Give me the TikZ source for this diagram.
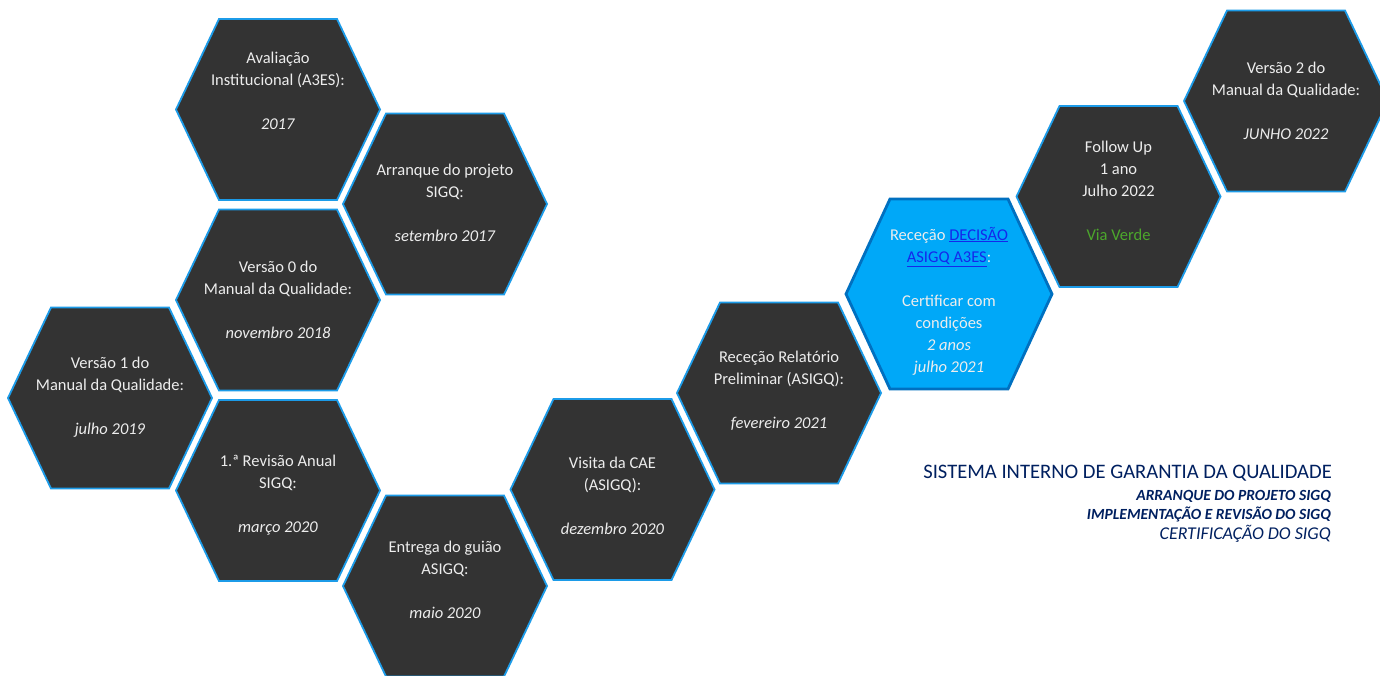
\documentclass[tikz,border=0pt]{standalone}
\usepackage{fontspec}
\setmainfont{Carlito}
\definecolor{hexfill}{HTML}{333333}
\definecolor{hexline}{HTML}{1C9BE8}
\definecolor{hitfill}{HTML}{00A8F8}
\definecolor{hitline}{HTML}{0070C0}
\definecolor{hextxt}{HTML}{EDEDED}
\definecolor{linkblue}{RGB}{20,40,235}
\definecolor{viaverde}{HTML}{4CA72C}
\definecolor{navy}{HTML}{002060}
\tikzset{
  hexpic/.pic={\path[pic actions] (-102,0) -- (-59,-90.5) -- (59,-90.5) -- (102,0) -- (59,90.5) -- (-59,90.5) -- cycle;},
  hexbig/.pic={\path[pic actions] (-103,0) -- (-59,-95) -- (59,-95) -- (103,0) -- (59,95) -- (-59,95) -- cycle;},
  hexstyle/.style={fill=hexfill, draw=hexline, line width=1.8pt, line join=miter},
  hitstyle/.style={fill=hitfill, draw=hitline, line width=2.8pt, line join=miter},
  hextext/.style={align=center, text=hextxt, inner sep=0pt, font=\fontsize{16.5}{22}\selectfont},
  titletext/.style={anchor=base east, inner sep=0pt, text=navy},
}
\begin{document}
\begin{tikzpicture}[x=1pt,y=-1pt]
\useasboundingbox (0,0) rectangle (1380,675);
\fill[white] (0,0) rectangle (1380,675);

% hexagons
\pic[hexstyle] at (278,109.5) {hexpic};
\pic[hexstyle] at (445,204) {hexpic};
\pic[hexstyle] at (278,300) {hexpic};
\pic[hexstyle] at (110,398) {hexpic};
\pic[hexstyle] at (278,490.5) {hexpic};
\pic[hexstyle] at (445,586) {hexpic};
\pic[hexstyle] at (612.5,489.5) {hexpic};
\pic[hexstyle] at (779,393) {hexpic};
\pic[hitstyle] at (949,294) {hexbig};
\pic[hexstyle] at (1118.5,196.5) {hexpic};
\pic[hexstyle] at (1286,101) {hexpic};

% texts
\node[hextext] (avaliacao) at (278,91) {Avaliação\\Institucional (A3ES):\\[22pt]\textit{2017}};
\node[hextext] (arranque) at (445,202.5) {Arranque do projeto\\SIGQ:\\[22pt]\textit{setembro 2017}};
\node[hextext] (versao0) at (278,300) {Versão 0 do\\Manual da Qualidade:\\[22pt]\textit{novembro 2018}};
\node[hextext] (versao1) at (110,397.5) {Versão 1 do\\Manual da Qualidade:\\[22pt]\textit{julho 2019}};
\node[hextext] (revisao) at (278,495.5) {1.ª Revisão Anual\\SIGQ:\\[22pt]\textit{março 2020}};
\node[hextext] (entrega) at (445,579.5) {Entrega do guião\\ASIGQ:\\[22pt]\textit{maio 2020}};
\node[hextext] (visita) at (612.5,495.5) {Visita da CAE\\(ASIGQ):\\[22pt]\textit{dezembro 2020}};
\node[hextext] (relatorio) at (779,390.5) {Receção Relatório\\Preliminar (ASIGQ):\\[22pt]\textit{fevereiro 2021}};
\node[hextext] (decisao) at (949,301) {Receção \textcolor{linkblue}{\underline{DECISÃO}}\\\textcolor{linkblue}{\underline{ASIGQ A3ES}}:\\[22pt]Certificar com\\condições\\\textit{2 anos}\\\textit{julho 2021}};
\node[hextext] (followup) at (1118.5,191) {Follow Up\\1 ano\\Julho 2022\\[22pt]\textcolor{viaverde}{Via Verde}};
\node[hextext] (versao2) at (1286,101) {Versão 2 do\\Manual da Qualidade:\\[22pt]\textit{JUNHO 2022}};

% legend
\node[titletext, font=\fontsize{20.6}{24}\selectfont] (title) at (1332,478) {SISTEMA INTERNO DE GARANTIA DA QUALIDADE};
\node[titletext, font=\fontsize{15.5}{18}\selectfont\bfseries\itshape] (sub1) at (1331,500.5) {ARRANQUE DO PROJETO SIGQ};
\node[titletext, font=\fontsize{15.5}{18}\selectfont\bfseries\itshape] (sub2) at (1331,519.5) {IMPLEMENTAÇÃO E REVISÃO DO SIGQ};
\node[titletext, font=\fontsize{18}{20}\selectfont\itshape] (sub3) at (1331,539) {CERTIFICAÇÃO DO SIGQ};
\end{tikzpicture}
\end{document}
